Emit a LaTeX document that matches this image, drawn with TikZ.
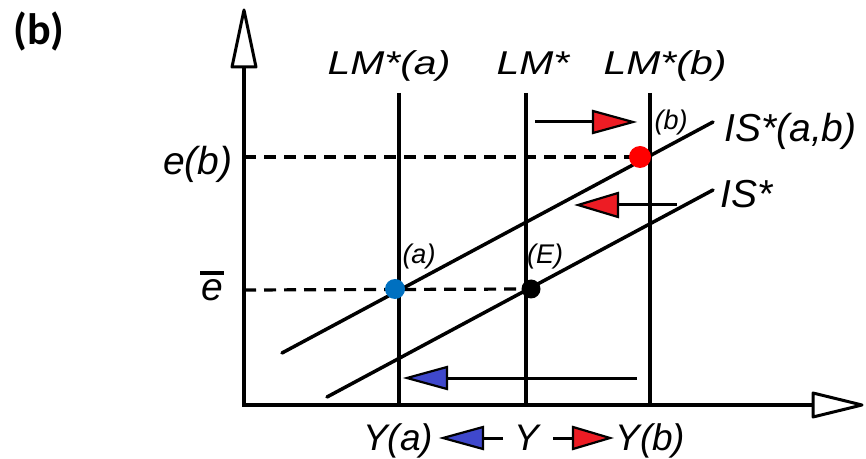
\documentclass[tikz,border=0pt]{standalone}
\usepackage{fontspec}
\newfontfamily\lmfont{Liberation Sans}[FakeStretch=1.24]
\newfontfamily\itfont{Liberation Sans}
\newfontfamily\bfont{Carlito}
\definecolor{dotblue}{HTML}{0070C0}
\definecolor{dotred}{HTML}{FF0000}
\definecolor{arred}{HTML}{ED1C24}
\definecolor{arblue}{HTML}{3F48CC}
\begin{document}
\begin{tikzpicture}[x=0.5pt,y=-0.5pt,
  ax/.style={line width=1.6pt},
  axhead/.style={line width=1.5pt,fill=white,line join=round},
  vline/.style={line width=2pt},
  isline/.style={line width=1.75pt},
  dline/.style={line width=1.6pt,dash pattern=on 6pt off 4pt},
  shaft/.style={line width=1.5pt},
  head/.style={line width=1.1pt,draw=black,line join=miter},
  lmlab/.style={inner sep=0pt,font=\lmfont\itshape\fontsize{16.5}{19}\selectfont},
  bigit/.style={inner sep=0pt,font=\itfont\itshape\fontsize{19.5}{23}\selectfont},
  ylab/.style={inner sep=0pt,font=\itfont\itshape\fontsize{18.5}{22}\selectfont},
  small/.style={inner sep=0pt,font=\itfont\itshape\fontsize{13.5}{16}\selectfont}]
\useasboundingbox (0,0) rectangle (866,459);
% axes
\coordinate (O) at (244,405);
\coordinate (Ytop) at (244,67);
\coordinate (Xend) at (813,405);
\draw[ax] (O) -- (Ytop);
\draw[ax] (242,405) -- (Xend);
\draw[axhead] (244,10) -- (256,67) -- (232,67) -- cycle;
\draw[axhead] (813,393) -- (862,405) -- (813,417) -- cycle;
% LM lines
\coordinate (LMat) at (399,93); \coordinate (LMab) at (399,405);
\coordinate (LMt) at (526,93);  \coordinate (LMb) at (526,405);
\coordinate (LMbt) at (650,93); \coordinate (LMbb) at (650,405);
\draw[vline] (LMat) -- (LMab);
\draw[vline] (LMt) -- (LMb);
\draw[vline] (LMbt) -- (LMbb);
% IS lines
\coordinate (ISab1) at (282,353); \coordinate (ISab2) at (713,122);
\coordinate (IS1) at (327,397);   \coordinate (IS2) at (713,190);
\draw[isline,line cap=round] (ISab1) -- (ISab2);
\draw[isline,line cap=round] (IS1) -- (IS2);
% points
\coordinate (A) at (395,289);
\coordinate (E) at (531,289);
\coordinate (B) at (640,157);
\draw[dline] (244,157) -- (B);
\draw[dline] (244,290) -- (E);
\fill[dotblue] (A) circle[radius=5pt];
\fill[black] (E) circle[radius=4.75pt];
\fill[dotred] (B) circle[radius=5.5pt];
% arrows
\draw[shaft] (535,122) -- (596,122);
\filldraw[head,fill=arred] (633,122) -- (593,111) -- (593,133) -- cycle;
\draw[shaft] (677,205) -- (615,205);
\filldraw[head,fill=arred] (578,205) -- (618,193) -- (618,217) -- cycle;
\draw[shaft] (637,378) -- (444,378);
\filldraw[head,fill=arblue] (407,378) -- (447,367) -- (447,389) -- cycle;
\draw[shaft] (503,438) -- (480,438);
\filldraw[head,fill=arblue] (443,438) -- (483,427) -- (483,449) -- cycle;
\draw[shaft] (553,438) -- (576,438);
\filldraw[head,fill=arred] (610,438) -- (573,427) -- (573,449) -- cycle;
% labels
\node[inner sep=0pt,font=\bfont\bfseries\fontsize{22}{26}\selectfont] (panel) at (39,32) {(b)};
\node[lmlab,anchor=base] (lma) at (389,75) {LM*(a)};
\node[lmlab,anchor=base] (lm) at (533,75) {LM*};
\node[lmlab,anchor=base] (lmb) at (665,75) {LM*(b)};
\node[bigit,anchor=base west] (isab) at (724,142) {IS*(a,b)};
\node[bigit,anchor=base west] (is) at (720,208) {IS*};
\node[bigit,anchor=base east] (eb) at (233,175) {e(b)};
\node[bigit,anchor=base] (ebar) at (212,300) {e};
\draw[line width=1.6pt] (200,273) -- (224,273);
\node[ylab,anchor=base] (ya) at (398,450) {Y(a)};
\node[ylab,anchor=base] (y) at (527,450) {Y};
\node[ylab,anchor=base west] (yb) at (615,450) {Y(b)};
\node[small,anchor=base] (la) at (419,264) {(a)};
\node[small,anchor=base] (le) at (545,264) {(E)};
\node[small,anchor=base] (lb) at (671,130) {(b)};
\end{tikzpicture}
\end{document}
